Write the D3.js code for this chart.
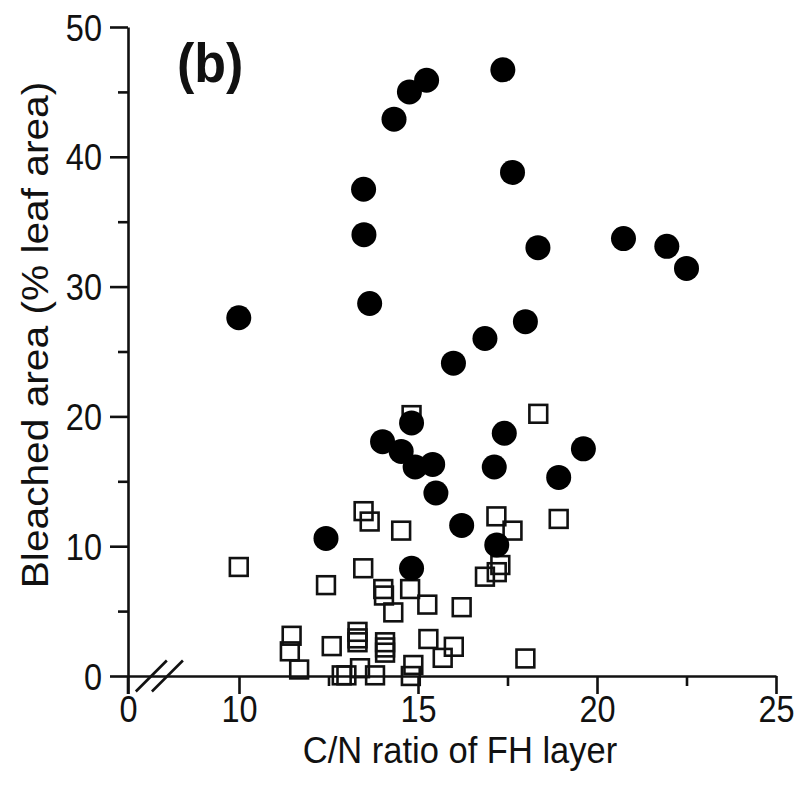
<!DOCTYPE html>
<html>
<head>
<meta charset="utf-8">
<script src="https://cdn.jsdelivr.net/npm/d3@7"></script>
<style>
  body { margin: 0; background: #fff; }
  svg { display: block; font-family: "Liberation Sans", Arial, Helvetica, sans-serif; }
</style>
</head>
<body>
<div id="chart"></div>
<script>
// DATA //

// Filled circles
const circleX = [9.98, 12.43, 13.48, 13.49, 13.65, 14.01, 14.33, 14.53, 14.76, 14.82,
  14.82, 14.92, 15.24, 15.41, 15.5, 15.99, 16.22, 16.87, 17.13, 17.2,
  17.37, 17.41, 17.64, 18.0, 18.35, 18.93, 19.62, 20.74, 21.95, 22.5];
const circleY = [27.6, 10.6, 37.5, 34.0, 28.7, 18.05, 42.9, 17.3, 45.0, 19.5,
  8.3, 16.1, 45.9, 16.3, 14.1, 24.1, 11.6, 26.0, 16.1, 10.1,
  46.7, 18.7, 38.8, 27.3, 33.0, 15.3, 17.5, 33.7, 33.1, 31.4];

// Open squares
const squareX = [9.98, 11.42, 11.47, 11.68, 12.43, 12.59, 12.87, 13.0, 13.31, 13.31,
  13.31, 13.38, 13.47, 13.48, 13.65, 13.8, 14.03, 14.05, 14.08, 14.08,
  14.08, 14.31, 14.53, 14.78, 14.8, 14.87, 14.82, 15.26, 15.29, 15.69,
  16.0, 16.22, 16.87, 17.2, 17.3, 17.19, 17.64, 18.0, 18.36, 18.93];
const squareY = [8.4, 1.9, 3.1, 0.5, 7.0, 2.3, 0.05, 0.05, 3.4, 2.9,
  2.6, 0.6, 8.3, 12.7, 11.9, 0.05, 6.7, 6.2, 2.6, 2.2,
  1.8, 4.9, 11.2, 6.7, 0.0, 0.85, 20.1, 5.5, 2.85, 1.4,
  2.25, 5.3, 7.65, 8.0, 8.55, 12.3, 11.2, 1.35, 20.2, 12.1];

// Axes
const xTicks = [0, 10, 15, 20, 25];
const xMinorTicks = [12.5, 17.5, 22.5];
const yTicks = [0, 10, 20, 30, 40, 50];
const yMinorTicks = [5, 15, 25, 35, 45];
const axisBreak = [2.1, 3.55];

const panelLabel = "(b)";
const xTitle = "C/N ratio of FH layer";
const yTitle = "Bleached area (% leaf area)";

// LAYOUT //

const width = 801;
const height = 793;
const stretch = 1.12; // the figure text is a little taller than it is wide

const svg = d3.select("#chart")
  .append("svg")
  .attr("width", width)
  .attr("height", height);

svg.append("rect")
  .attr("width", width)
  .attr("height", height)
  .attr("fill", "#fff");

// broken x axis: 0 squeezed next to 10
const x = d3.scaleLinear().domain([0, 10, 25]).range([128, 239, 776]);
const y = d3.scaleLinear().domain([0, 50]).range([676, 27]);

const stroke = 2.6;

// X AXIS //

const gx = svg.append("g")
  .attr("transform", `translate(0,${y(0)})`)
  .call(d3.axisBottom(x).tickValues(xTicks).tickSize(18).tickSizeOuter(0));

gx.append("g")
  .call(d3.axisBottom(x).tickValues(xMinorTicks).tickSize(10).tickFormat(""))
  .select(".domain").remove();

gx.selectAll(".tick text")
  .attr("dy", null)
  .attr("y", 46 / stretch)
  .attr("transform", `scale(1,${stretch})`)
  .attr("font-size", 32.5)
  .attr("font-family", "Liberation Sans, Arial, sans-serif")
  .attr("fill", "#111");

// Y AXIS //

const gy = svg.append("g")
  .attr("transform", `translate(${x(0)},0)`)
  .call(d3.axisLeft(y).tickValues(yTicks).tickSize(18).tickSizeOuter(0));

gy.append("g")
  .call(d3.axisLeft(y).tickValues(yMinorTicks).tickSize(10).tickFormat(""))
  .select(".domain").remove();

gy.selectAll(".tick text")
  .attr("dy", null)
  .attr("x", -26)
  .attr("y", 13 / stretch)
  .attr("transform", `scale(1,${stretch})`)
  .attr("font-size", 32.5)
  .attr("font-family", "Liberation Sans, Arial, sans-serif")
  .attr("fill", "#111");

// y axis runs down past the x axis to the bottom of the 0 tick
gy.append("line")
  .attr("x1", 0).attr("x2", 0)
  .attr("y1", y(0)).attr("y2", y(0) + 18);

svg.selectAll(".domain, .tick line, g > line")
  .attr("stroke", "#111")
  .attr("stroke-width", stroke);

// Axis break marks
svg.append("g")
  .selectAll("line")
  .data(axisBreak)
  .join("line")
  .attr("x1", (d) => x(d) - 15.5)
  .attr("x2", (d) => x(d) + 15.5)
  .attr("y1", y(0) + 15.5)
  .attr("y2", y(0) - 15.5)
  .attr("stroke", "#111")
  .attr("stroke-width", stroke);

// POINTS //

const squares = d3.zip(squareX, squareY);
const circles = d3.zip(circleX, circleY);
const side = 17.8;

svg.append("g")
  .selectAll("rect")
  .data(squares)
  .join("rect")
  .attr("x", (d) => x(d[0]) - side / 2)
  .attr("y", (d) => y(d[1]) - side / 2)
  .attr("width", side)
  .attr("height", side)
  .attr("fill", "none")
  .attr("stroke", "#111")
  .attr("stroke-width", stroke);

svg.append("g")
  .selectAll("circle")
  .data(circles)
  .join("circle")
  .attr("cx", (d) => x(d[0]))
  .attr("cy", (d) => y(d[1]))
  .attr("r", 12.5)
  .attr("fill", "#000");

// TEXT //

svg.append("text")
  .attr("transform", `translate(177,82) scale(1,1.08)`)
  .attr("font-size", 52)
  .attr("font-weight", "bold")
  .attr("fill", "#111")
  .text(panelLabel);

svg.append("text")
  .attr("transform", `translate(460,763) scale(1,1.05)`)
  .attr("text-anchor", "middle")
  .attr("font-size", 34.5)
  .attr("fill", "#111")
  .text(xTitle);

svg.append("text")
  .attr("transform", `translate(48,335) rotate(-90) scale(1.1,1)`)
  .attr("text-anchor", "middle")
  .attr("font-size", 37)
  .attr("fill", "#111")
  .text(yTitle);
</script>
</body>
</html>
